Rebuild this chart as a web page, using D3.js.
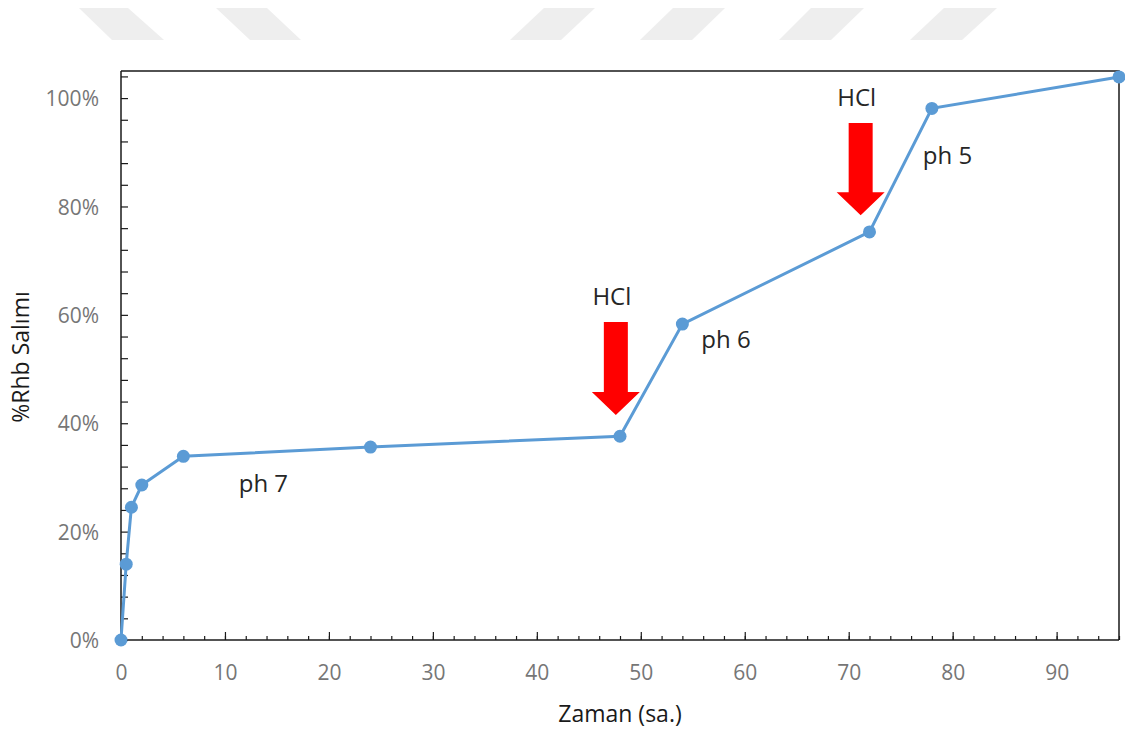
<!DOCTYPE html>
<html><head><meta charset="utf-8">
<script src="https://cdn.jsdelivr.net/npm/d3@7"></script>
<style>body{margin:0;background:#fff}svg{display:block}</style>
</head><body>
<svg id="c" width="1125" height="731"></svg>
<script>
// Data
const hours = [0, 0.5, 1, 2, 6, 24, 48, 54, 72, 78, 96];
const release = [0, 0.140, 0.245, 0.286, 0.339, 0.356, 0.376, 0.583, 0.753, 0.981, 1.039];
const xTicks = [0, 10, 20, 30, 40, 50, 60, 70, 80, 90];
const yTicks = [0, 0.2, 0.4, 0.6, 0.8, 1.0];
const phLabels = ["ph 7", "ph 6", "ph 5"];
const phX = [13.7, 58.2, 79.5];
const phY = [0.285, 0.55, 0.89];
const hclLabel = "HCl";
const arrowX = [47.6, 71.15];
const arrowTop = [0.587, 0.954];
const arrowTip = [0.415, 0.784];

const FONT = "'Open Sans', 'Noto Sans', sans-serif";
const svg = d3.select("#c");
const m = {l:121, r:1119, t:71, b:640};
const x = d3.scaleLinear().domain([0, 96]).range([m.l, m.r]);
const y = d3.scaleLinear().domain([0, 1.05]).range([m.b, m.t]);

// faint watermark stripes at top
const stripes = [
  [[79,8],[128,8],[164,40],[112,40]],
  [[216,8],[267,8],[301,40],[250,40]],
  [[544,8],[595,8],[561,40],[510,40]],
  [[673,8],[725,8],[692,40],[640,40]],
  [[811,8],[864,8],[831,40],[779,40]],
  [[944,8],[997,8],[962,40],[910,40]]
];
svg.append("g").selectAll("polygon").data(stripes).join("polygon")
  .attr("points", d => d.map(p => p.join(",")).join(" "))
  .attr("fill", "#eeeeee");

// frame (top & right)
svg.append("path")
  .attr("d", `M${m.l},${m.t}H${m.r}V${m.b}`)
  .attr("fill","none").attr("stroke","#1a1a1a").attr("stroke-width",1.5);

// X axis
const gx = svg.append("g").attr("transform",`translate(0,${m.b})`);
gx.call(d3.axisBottom(x).tickValues(d3.range(0, 97, 2)).tickSize(-4).tickFormat(""))
  .call(g => g.select(".domain").remove());
gx.selectAll(".tick line").attr("stroke","#1a1a1a").attr("stroke-width",1.2);
const gx2 = svg.append("g").attr("transform",`translate(0,${m.b})`);
gx2.call(d3.axisBottom(x).tickValues(xTicks).tickSize(-8).tickPadding(0))
  .call(g => g.select(".domain").remove());
gx2.selectAll(".tick line").attr("stroke","#1a1a1a").attr("stroke-width",1.2);
gx2.selectAll(".tick text").attr("y", 40).attr("dy", 0).attr("fill","#767676")
  .style("font-family",FONT).style("font-size","21px");
svg.append("line").attr("x1",m.l).attr("x2",m.r).attr("y1",m.b).attr("y2",m.b)
  .attr("stroke","#1a1a1a").attr("stroke-width",1.5);

// Y axis
const gy = svg.append("g").attr("transform",`translate(${m.l},0)`);
gy.call(d3.axisLeft(y).tickValues(d3.range(0, 1.05, 0.04)).tickSize(-7).tickFormat(""))
  .call(g => g.select(".domain").remove());
gy.selectAll(".tick line").attr("stroke","#1a1a1a").attr("stroke-width",1.2);
const gy2 = svg.append("g").attr("transform",`translate(${m.l},0)`);
gy2.call(d3.axisLeft(y).tickValues(yTicks).tickSize(0).tickFormat(d3.format(".0%")))
  .call(g => g.select(".domain").remove());
gy2.selectAll(".tick text").attr("x", -22).attr("dy","0.36em").attr("fill","#767676")
  .style("font-family",FONT).style("font-size","21px");
svg.append("line").attr("x1",m.l).attr("x2",m.l).attr("y1",m.t).attr("y2",m.b)
  .attr("stroke","#1a1a1a").attr("stroke-width",1.5);

// Axis titles
svg.append("text").attr("x", 620).attr("y", 722).attr("text-anchor","middle")
  .attr("fill","#1a1a1a").style("font-family",FONT)
  .style("font-size","23px").text("Zaman (sa.)");
svg.append("text").attr("transform","translate(29,357) rotate(-90)").attr("text-anchor","middle")
  .attr("fill","#1a1a1a").style("font-family",FONT)
  .style("font-size","23px").text("%Rhb Salımı");

// Line + points
const pts = hours.map((h,i) => [h, release[i]]);
svg.append("path").datum(pts)
  .attr("d", d3.line().x(d => x(d[0])).y(d => y(d[1])))
  .attr("fill","none").attr("stroke","#5b9bd5").attr("stroke-width",3);
svg.append("g").selectAll("circle").data(pts).join("circle")
  .attr("cx", d => x(d[0])).attr("cy", d => y(d[1])).attr("r", 6.5)
  .attr("fill","#5b9bd5");

// Arrows
const sw = 12, hw = 24, hh = 23;
arrowX.forEach((ax,i) => {
  const cx = x(ax), t = y(arrowTop[i]), tip = y(arrowTip[i]);
  const hb = tip - hh;
  svg.append("path")
    .attr("d", `M${cx-sw},${t}H${cx+sw}V${hb}H${cx+hw}L${cx},${tip}L${cx-hw},${hb}H${cx-sw}Z`)
    .attr("fill","#ff0000");
  svg.append("text").attr("x", cx - 4).attr("y", t - 17).attr("text-anchor","middle")
    .attr("fill","#262626").style("font-family",FONT)
    .style("font-size","24px").text(hclLabel);
});

// pH labels
phLabels.forEach((l,i) => {
  svg.append("text").attr("x", x(phX[i])).attr("y", y(phY[i]))
    .attr("text-anchor","middle").attr("dominant-baseline","middle")
    .attr("fill","#262626").style("font-family",FONT)
    .style("font-size","24px").text(l);
});
</script>
</body></html>
